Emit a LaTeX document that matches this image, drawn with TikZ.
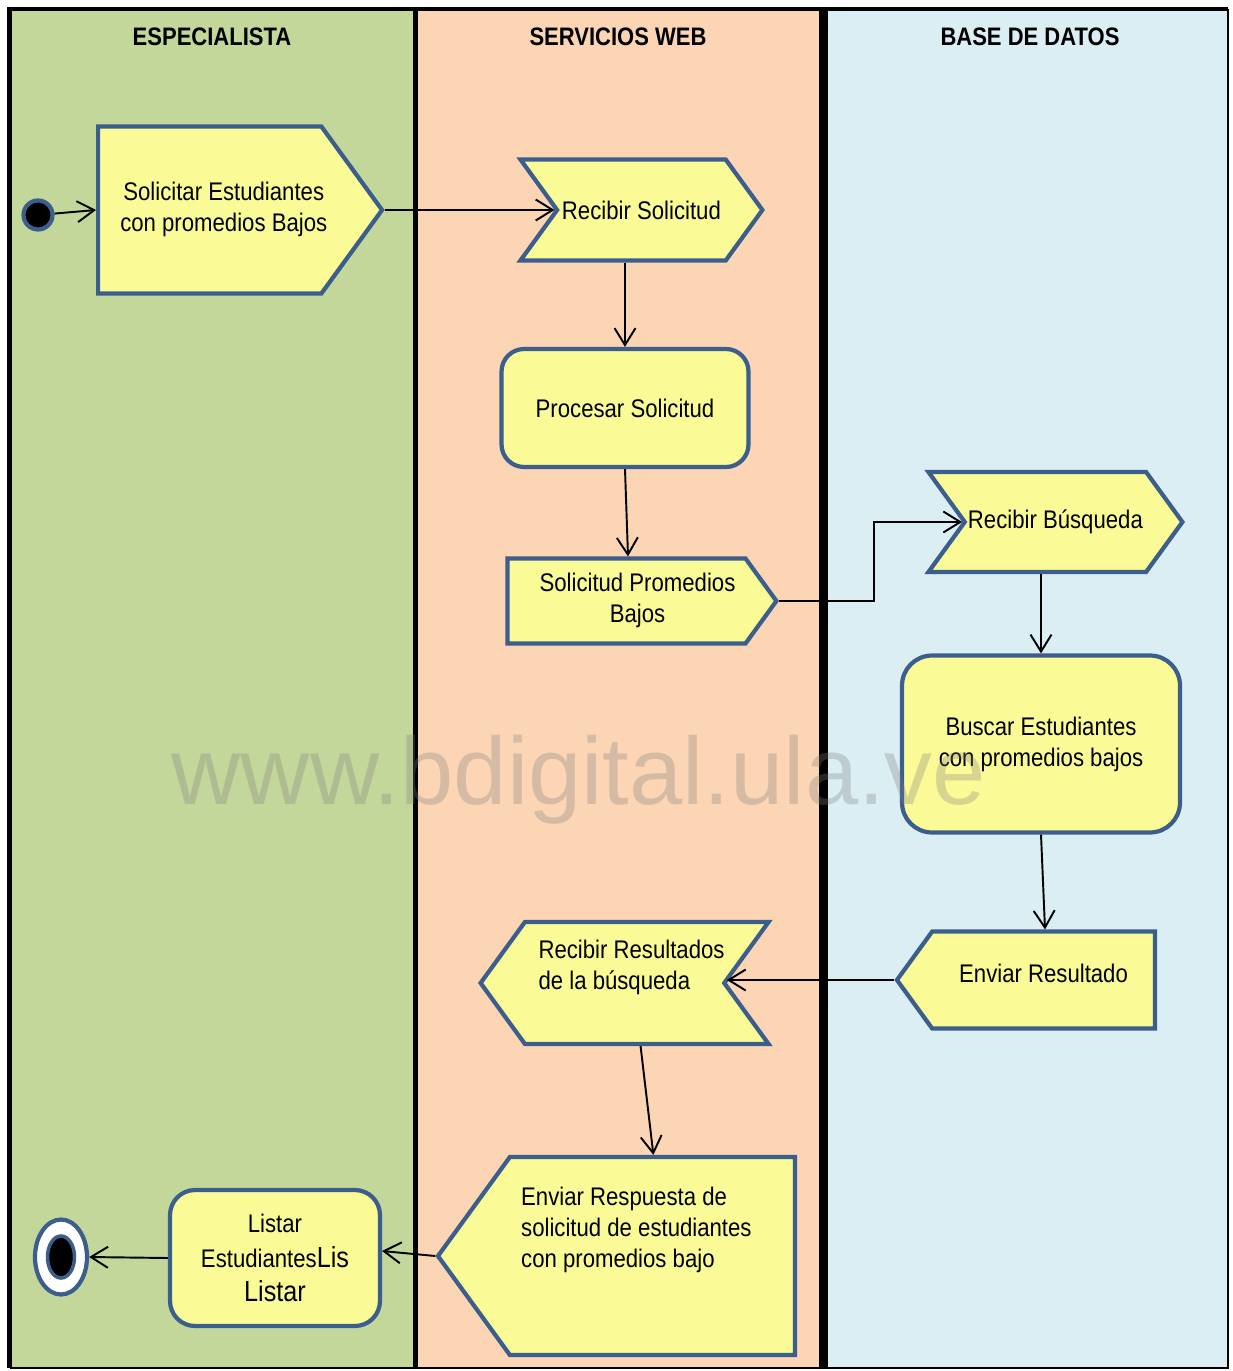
\documentclass[tikz,border=0pt]{standalone}
\usepackage{fontspec}
\setmainfont{Liberation Sans}[FakeStretch=0.87]
\newfontfamily\wmfont{Liberation Sans}
\usepackage{tikz}
\usetikzlibrary{positioning}
\usetikzlibrary{shapes}
\usetikzlibrary{arrows.meta}

\definecolor{lanegreen}{HTML}{C4D79B}
\definecolor{lanepeach}{HTML}{FCD5B5}
\definecolor{laneblue}{HTML}{DAEEF3}
\definecolor{boxfill}{HTML}{FAFB96}
\definecolor{boxline}{HTML}{3B5E8C}

\begin{document}
\begin{tikzpicture}[x=0.02cm, y=-0.02cm, line width=1.1pt, >={Straight Barb[length=0.34cm,width=0.42cm]},
    act/.style={draw=boxline, line width=2.4pt, fill=boxfill, align=center, inner sep=1pt,
        font=\fontsize{14.5}{17.6}\selectfont},
    sig/.style={act, signal, signal pointer angle=108},
    title/.style={font=\fontsize{14.4}{16}\selectfont\bfseries}]
        \useasboundingbox (0,0) rectangle (1232,1371);
        % lanes
        \fill[lanegreen] (9,9) rectangle (415,1368);
        \fill[lanepeach] (415,9) rectangle (824,1368);
        \fill[laneblue] (824,9) rectangle (1228,1368);
        \draw[line width=2.4pt] (9.5,1368) -- (9.5,9) -- (1228,9);
        \draw[line width=0.8pt] (1228,9) -- (1228,1368) -- (9.5,1368);
        \draw[line width=2.4pt] (415.5,9) -- (415.5,1368);
        \draw[line width=4.8pt] (823.5,9) -- (823.5,1368);
        \node [title] (t1) at (212,37) {ESPECIALISTA};
        \node [title] (t2) at (618,37) {SERVICIOS WEB};
        \node [title] (t3) at (1030,37) {BASE DE DATOS};
        % especialista
        \node [draw=boxline, line width=2.4pt, circle, fill=black, inner sep=0, minimum size=0.58cm] (0) at (38,215) {};
        \node [sig, signal to=east, minimum width=5.68cm, minimum height=3.34cm, anchor=west] (1) at (96,210)
            {\hspace*{0.28cm}\begin{tabular}{@{}c@{}}Solicitar Estudiantes\\con promedios Bajos\end{tabular}\hspace*{-0.28cm}};
        \draw[->] (0) -- (1.west);
        % servicios web
        \node [sig, signal from=west, signal to=east, minimum width=4.84cm, minimum height=2.02cm, anchor=east] (2) at (765,210)
            {Recibir Solicitud};
        \node [act, rectangle, rounded corners=0.45cm, minimum width=4.94cm, minimum height=2.36cm] (3) at (625,408)
            {Procesar Solicitud};
        \node [sig, signal to=east, minimum width=5.38cm, minimum height=1.7cm, anchor=east] (4) at (779,601)
            {\hspace*{0.22cm}\begin{tabular}{@{}c@{}}Solicitud Promedios\\Bajos\end{tabular}\hspace*{-0.22cm}};
        \draw[->] (1.east) -- (2.west);
        \draw[->] (2.south -| 3.north) -- (3.north);
        \draw[->] (3.south) -- ([xshift=0.06cm]3.south |- 4.north);
        % base de datos
        \node [sig, signal from=west, signal to=east, minimum width=5.08cm, minimum height=2cm, anchor=east] (5) at (1185,522)
            {Recibir Búsqueda};
        \node [act, rectangle, rounded corners=0.6cm, minimum width=5.56cm, minimum height=3.54cm] (6) at (1041,744)
            {Buscar Estudiantes\\con promedios bajos};
        \node [sig, signal to=west, minimum width=5.16cm, minimum height=1.94cm, anchor=east] (7) at (1157,980)
            {Enviar Resultado\\[-0.34cm]~};
        \coordinate (c) at (874,601);
        \draw[->] (4.east) -- (c) |- (5.west);
        \draw[->] (5.south -| 6.north) -- (6.north);
        \draw[->] (6.south) -- ([xshift=0.08cm]6.south |- 7.north);
        % respuesta
        \node [sig, signal to=west, signal from=east, minimum width=5.76cm, minimum height=2.44cm, anchor=west] (8) at (478,983)
            {\hspace*{0.14cm}\begin{tabular}{@{}l@{}}Recibir Resultados\\de la búsqueda\\~\end{tabular}\hspace*{-0.14cm}};
        \node [sig, signal to=west, minimum width=7.14cm, minimum height=3.96cm, anchor=east] (9) at (797,1256)
            {\begin{tabular}{@{}l@{}}Enviar Respuesta de\\solicitud de estudiantes\\con promedios bajo\\~\\[-0.2cm]~\end{tabular}\hspace*{0.64cm}};
        \node [act, rectangle, rounded corners=0.5cm, minimum width=4.2cm, minimum height=2.72cm,
            font=\fontsize{14.5}{19.8}\selectfont] (10) at (275,1258)
            {Listar\\Estudiantes{\fontsize{16.5}{19.8}\selectfont Lis}\\{\fontsize{16.5}{19.8}\selectfont Listar}};
        \node [ellipse, draw=boxline, line width=2.4pt, fill=white, inner sep=0, minimum width=1.04cm, minimum height=1.5cm] (11) at (61,1257) {};
        \draw[boxline, fill=black, line width=2pt] (11.center) ellipse [x radius=0.27cm, y radius=0.42cm];
        \draw[->] (7.west) -- (7.west -| 8.east);
        \draw[->] ([xshift=0.32cm]8.south) -- ([xshift=0.02cm]9.north);
        \draw[->] (9.west) -- ([yshift=0.14cm]10.east);
        \draw[->] (10.west) -- (11.east);
        % watermark
        \node [font=\wmfont\fontsize{54.5}{60}\selectfont, text=gray, text opacity=0.3, anchor=base] (wm) at (579,804) {www.bdigital.ula.ve};
    \end{tikzpicture}
\end{document}
